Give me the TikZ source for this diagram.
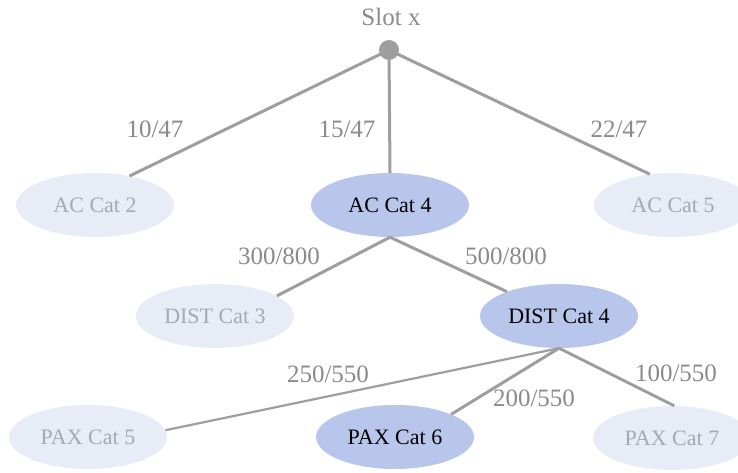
\documentclass[tikz,border=0pt]{standalone}
\usepackage{fontspec}
\setmainfont{Liberation Serif}
\usetikzlibrary{shapes.geometric}
\definecolor{lightfill}{HTML}{E8ECF7}
\definecolor{darkfill}{HTML}{B7C6EA}
\definecolor{lighttext}{HTML}{A6A8B2}
\definecolor{edgegray}{HTML}{9E9E9E}
\definecolor{labelgray}{HTML}{8A8A8A}
\tikzset{
  catnode/.style={ellipse, minimum width=158pt, minimum height=64pt, inner sep=0pt,
    font=\fontsize{22}{24}\selectfont},
  faint/.style={catnode, fill=lightfill, text=lighttext},
  strong/.style={catnode, fill=darkfill, text=black},
  edge/.style={draw=edgegray, line width=3pt},
  thinedge/.style={draw=edgegray, line width=2.2pt},
  lbl/.style={text=labelgray, font=\fontsize{25}{27}\selectfont, inner sep=0pt},
}
\begin{document}
\begin{tikzpicture}[x=1pt,y=-1pt]
\useasboundingbox (0,0) rectangle (738,473);
\clip (0,0) rectangle (738,473);
\node[lbl] (slot) at (391,17) {Slot x};
\node[circle, fill=edgegray, minimum size=20pt, inner sep=0pt] (root) at (389,50) {};

\node[faint] (ac2) at (95,205) {AC Cat 2};
\node[strong] (ac4) at (390,205) {AC Cat 4};
\node[faint] (ac5) at (673,205) {AC Cat 5};

\node[faint] (dist3) at (215,316) {DIST Cat 3};
\node[strong] (dist4) at (559,316) {DIST Cat 4};

\node[faint] (pax5) at (88,437) {PAX Cat 5};
\node[strong] (pax6) at (395,437) {PAX Cat 6};
\node[faint] (pax7) at (672,438) {PAX Cat 7};

\draw[edge] (root.center) -- (ac2.40);
\draw[edge] (root.center) -- (ac4.north);
\draw[edge] (root.center) -- (ac5.127);

\draw[edge] (ac4.south) -- (dist3.18);
\draw[edge] (ac4.south) -- (dist4.155);

\draw[thinedge] (dist4.south) -- (pax5.5);
\draw[edge] (dist4.south) -- (pax6.22);
\draw[edge] (dist4.south) -- (pax7.86);

\node[lbl] (l1) at (155,129) {10/47};
\node[lbl] (l2) at (347,129) {15/47};
\node[lbl] (l3) at (619,129) {22/47};
\node[lbl] (l4) at (279,256) {300/800};
\node[lbl] (l5) at (506,256) {500/800};
\node[lbl] (l6) at (328,374) {250/550};
\node[lbl] (l7) at (534,398) {200/550};
\node[lbl] (l8) at (676,373) {100/550};
\end{tikzpicture}
\end{document}
